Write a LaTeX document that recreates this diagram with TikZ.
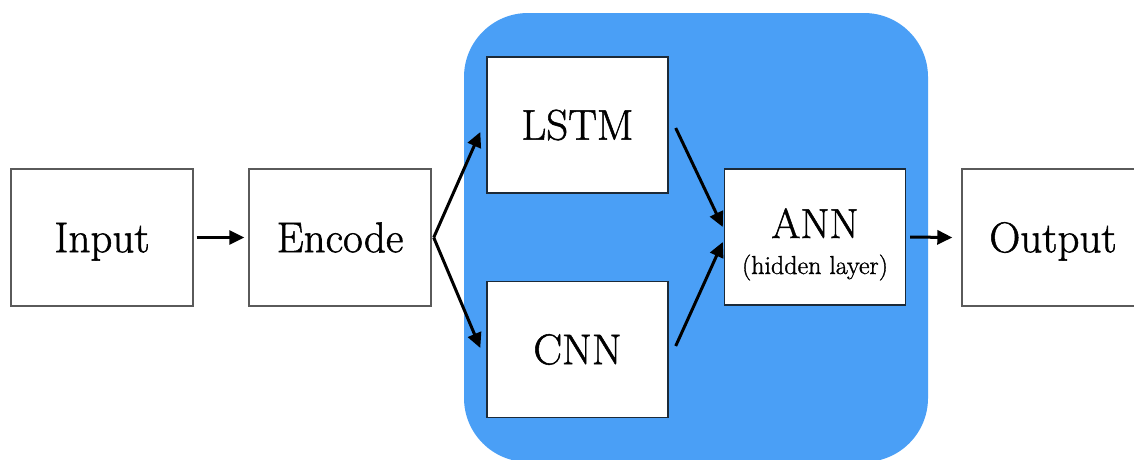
\documentclass[tikz,border=0pt]{standalone}
\usepackage{fontspec}
\setmainfont{Latin Modern Roman}[FakeBold=1.2]
\usetikzlibrary{arrows.meta,calc}
\definecolor{panelblue}{HTML}{4A9FF6}
\definecolor{outline}{HTML}{5A5A5A}
\definecolor{inline}{HTML}{1C2A38}
\begin{document}
\begin{tikzpicture}[x=1pt,y=-1pt,
  bigtext/.style={font=\fontsize{43}{50}\selectfont, text height=29.4pt, text depth=0pt, inner sep=0pt},
  outerbox/.style={draw=outline, line width=1.4pt, fill=white, minimum width=182pt, minimum height=137pt, inner sep=0pt},
  innerbox/.style={draw=inline, line width=1.4pt, fill=white, minimum width=181pt, minimum height=136pt, inner sep=0pt},
  arr/.style={line width=3pt, -{Triangle[length=15pt,width=14pt]}}]
  \clip (0,0) rectangle (1134,459);
  \useasboundingbox (0,0) rectangle (1134,459);
  \fill[white] (0,0) rectangle (1134,459);

  % blue panel holding the two feature extractors and the ANN
  \fill[panelblue, rounded corners=64pt] (464,13) rectangle (928,462);

  % boxes
  \node[outerbox, bigtext] (inp) at (102,237.5) {Input};
  \node[outerbox, bigtext] (enc) at (340,237.5) {Encode};
  \node[innerbox, bigtext] (lstm) at (577.5,125) {LSTM};
  \node[innerbox, bigtext] (cnn) at (577.5,349.5) {CNN};
  \node[innerbox] (ann) at (815,237) {};
  \node[anchor=base, inner sep=0pt, font=\fontsize{42}{48}\selectfont] (anntitle) at (815,238) {ANN};
  \node[anchor=base, inner sep=0pt, font=\fontsize{26}{30}\selectfont] (annsub) at (815,274) {(hidden layer)};
  \node[outerbox, bigtext] (out) at (1053,237.5) {Output};

  % connectors
  \draw[arr] ([xshift=3pt]inp.east) -- ([xshift=-4pt]enc.west);
  \draw[arr] ([xshift=2pt]enc.east) -- ([xshift=-6pt,yshift=-7pt]lstm.west);
  \draw[arr] ([xshift=2pt]enc.east) -- ([xshift=-6pt,yshift=1.5pt]cnn.west);
  \draw[arr] ([xshift=7pt,yshift=-3pt]lstm.east) -- ([xshift=-1pt,yshift=10pt]ann.west);
  \draw[arr] ([xshift=7pt,yshift=3.5pt]cnn.east) -- ([xshift=-1pt,yshift=-5pt]ann.west);
  \draw[arr] ([xshift=4pt]ann.east) -- ([xshift=-9pt]out.west);
\end{tikzpicture}
\end{document}
